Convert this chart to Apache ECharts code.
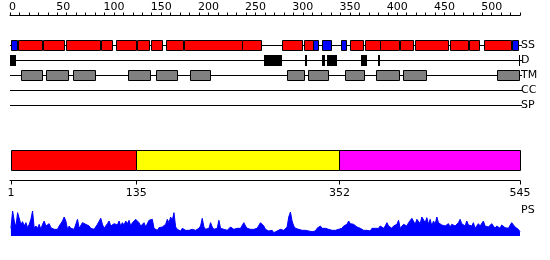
<!DOCTYPE html>
<html><head><meta charset="utf-8">
<script src="https://cdn.jsdelivr.net/npm/echarts@6/dist/echarts.min.js"></script>
<style>html,body{margin:0;padding:0;background:#fff}#c{width:550px;height:260px}</style>
</head><body><div id="c"></div>
<script>
// ---- data ----
const proteinLength = 545;
const trackNames = ['SS', 'D', 'TM', 'CC', 'SP'];
const helices = [[9,34],[36,57],[60,96],[98,109],[114,134],[136,148],[151,162],[167,184],[186,247],[248,268],[291,312],[315,323],[364,377],[380,395],[396,415],[417,430],[433,468],[471,489],[491,501],[507,535]];
const strands = [[2,7],[324,329],[334,342],[354,359],[537,542]];
const disorder = [[1,6],[272,290],[316,317],[334,336],[339,349],[376,381],[394,395],[544,545]];
const transmembrane = [[12,34],[39,62],[68,90],[127,149],[156,178],[193,213],[296,314],[319,339],[359,378],[392,415],[421,444],[521,543]];
const coiledCoil = [];
const signalPeptide = [];
const domainStarts = [1, 135, 352];
const domainEnds = [135, 352, 545];
const domainColors = ['#ff0000', '#ffff00', '#ff00ff'];
const domainTicks = [1, 135, 352, 545];
const rulerMin = 0, rulerMax = 540, rulerStep = 10, rulerLabelEvery = 50;
const psFirst = 1, psLast = 545;
const psValues = [
23,75,45,27,70,73,35,43,30,40, 25,35,50,75,23,30,23,35,20,35,
45,30,35,37,25,23,20,23,20,30, 35,45,57,45,20,30,23,27,20,23,
50,23,17,40,45,35,40,30,23,25, 20,23,35,40,53,35,23,30,37,45,
30,25,37,43,33,45,30,40,33,45, 37,47,30,40,45,50,53,40,30,27,
40,27,33,47,45,50,23,20,17,25, 23,27,25,35,50,40,57,47,70,27,
20,17,15,23,20,17,20,17,15,20, 23,17,20,23,30,53,27,20,17,23,
40,27,20,23,23,47,23,25,20,23, 17,23,27,23,20,17,23,27,23,27,
40,30,23,25,20,23,20,17,23,17, 40,43,30,20,23,15,13,17,10,13,
15,17,20,23,17,23,27,57,72,45, 30,23,27,20,23,17,23,17,23,15,
17,13,17,15,23,27,30,23,20,23, 17,20,15,17,20,17,13,20,23,23,
30,27,35,45,37,40,35,30,27,23, 23,20,17,20,17,15,15,23,27,23,
27,23,30,35,23,30,40,30,35,23, 30,27,35,47,23,20,35,37,30,40,
45,53,47,35,50,45,37,57,53,40, 55,35,50,30,45,35,57,40,45,33,
37,30,30,37,27,35,33,30,25,40, 50,37,43,30,45,33,35,30,40,23,
30,37,30,33,45,30,35,27,33,37, 33,23,30,35,23,33,27,25,30,23,
27,40,45,27,23,20,13
];

// ---- build ----
const FONT = 'DejaVu Sans';
const L = 10, R = 30;
const psStep = (psLast - psFirst) / (psValues.length - 1);
const psData = psValues.map((v, i) => [psFirst + i * psStep, v]);

const boxData = [];
helices.forEach(s => boxData.push([s[0], s[1], 0, '#ff0000', '#000']));
strands.forEach(s => boxData.push([s[0], s[1], 0, '#0000ff', '#000']));
disorder.forEach(s => boxData.push([s[0], s[1], 1, '#000000', null]));
transmembrane.forEach(s => boxData.push([s[0], s[1], 2, '#808080', '#000']));
coiledCoil.forEach(s => boxData.push([s[0], s[1], 3, '#00aa00', '#000']));
signalPeptide.forEach(s => boxData.push([s[0], s[1], 4, '#00aaaa', '#000']));

const domainData = domainStarts.map((s, i) => [s, domainEnds[i], domainColors[i]]);

function crisp(v) { return Math.round(v); }

const chart = echarts.init(document.getElementById('c'), null, {renderer: 'canvas'});
chart.setOption({
  animation: false,
  backgroundColor: '#ffffff',
  textStyle: {fontFamily: FONT},
  grid: [
    {left: L, right: R, top: 14.5, height: 1},          // ruler
    {left: L, right: R, top: 38, height: 75},           // tracks
    {left: L, right: R, top: 150, height: 30.5},        // domains + axis
    {left: L, right: R, top: 206, height: 30}           // PS
  ],
  xAxis: [
    {gridIndex: 0, type: 'value', position: 'top', min: rulerMin, max: rulerMax, interval: rulerStep,
     axisLine: {show: true, lineStyle: {color: '#000', width: 1}},
     axisTick: {show: true, length: 3, lineStyle: {color: '#000'}},
     axisLabel: {show: true, margin: 2, fontSize: 11, color: '#000', fontFamily: FONT,
       align: 'left', padding: [0, 0, 0, -1],
       formatter: v => (v % rulerLabelEvery === 0 ? String(v) : '')},
     splitLine: {show: false}},
    {gridIndex: 1, type: 'value', min: rulerMin, max: proteinLength, show: false},
    {gridIndex: 2, type: 'value', min: rulerMin, max: proteinLength,
     axisLine: {show: true, lineStyle: {color: '#000', width: 1}},
     axisTick: {show: true, length: 4, customValues: domainTicks, lineStyle: {color: '#000'}},
     axisLabel: {show: true, margin: 7, fontSize: 11, color: '#000', fontFamily: FONT,
       customValues: domainTicks, showMinLabel: true, showMaxLabel: true},
     splitLine: {show: false}},
    {gridIndex: 3, type: 'value', min: rulerMin, max: proteinLength, show: false}
  ],
  yAxis: [
    {gridIndex: 0, type: 'value', show: false, min: 0, max: 1},
    {gridIndex: 1, type: 'category', data: trackNames, inverse: true, position: 'right',
     axisLine: {show: false}, axisTick: {show: false}, splitLine: {show: false},
     axisLabel: {margin: 1, fontSize: 11, color: '#000', fontFamily: FONT, align: 'left'}},
    {gridIndex: 2, type: 'value', show: false, min: 0, max: 3},
    {gridIndex: 3, type: 'value', show: false, min: 0, max: 90}
  ],
  graphic: [
    {type: 'text', left: 521, top: 204.5, style: {text: 'PS', font: '11px "DejaVu Sans"', fill: '#000'}}
  ],
  series: [
    { // track baselines
      type: 'custom', xAxisIndex: 1, yAxisIndex: 1, z: 1,
      data: trackNames.map((n, i) => [i]),
      encode: {y: 0},
      renderItem: (params, api) => {
        const row = api.value(0);
        const a = api.coord([1, row]), b = api.coord([proteinLength, row]);
        const y = crisp(a[1]) - 0.5;
        return {type: 'line', shape: {x1: crisp(a[0]) - 1, y1: y, x2: crisp(b[0]) + 2, y2: y},
                style: {stroke: '#000', lineWidth: 1}};
      }
    },
    { // track features
      type: 'custom', xAxisIndex: 1, yAxisIndex: 1, z: 2,
      data: boxData,
      encode: {x: [0, 1], y: 2},
      renderItem: (params, api) => {
        const s = api.value(0), e = api.value(1), row = api.value(2);
        const fill = boxData[params.dataIndex][3], stroke = boxData[params.dataIndex][4];
        const a = api.coord([s - 0.5, row]), b = api.coord([e + 0.5, row]);
        const cy = crisp(a[1]) - 0.5;
        const x0 = crisp(a[0]), x1 = Math.max(crisp(b[0]), x0 + 1);
        if (stroke) {
          return {type: 'rect', shape: {x: x0 + 0.5, y: cy - 5, width: x1 - x0, height: 10},
                  style: {fill: fill, stroke: stroke, lineWidth: 1}};
        }
        return {type: 'rect', shape: {x: x0, y: cy - 5.5, width: x1 - x0, height: 11},
                style: {fill: fill}};
      }
    },
    { // domains
      type: 'custom', xAxisIndex: 2, yAxisIndex: 2, z: 2,
      data: domainData,
      encode: {x: [0, 1]},
      renderItem: (params, api) => {
        const a = api.coord([api.value(0), 3]), b = api.coord([api.value(1), 1]);
        const x0 = crisp(a[0]), x1 = crisp(b[0]);
        const y0 = crisp(a[1]), y1 = crisp(b[1]);
        return {type: 'rect', shape: {x: x0 + 0.5, y: y0 + 0.5, width: x1 - x0, height: y1 - y0},
                style: {fill: domainData[params.dataIndex][2], stroke: '#000', lineWidth: 1}};
      }
    },
    { // PS profile
      type: 'line', xAxisIndex: 3, yAxisIndex: 3,
      data: psData, symbol: 'none', smooth: false,
      lineStyle: {color: '#0000ff', width: 1},
      areaStyle: {color: '#0000ff', opacity: 1},
      itemStyle: {color: '#0000ff'}
    }
  ]
});
</script></body></html>
